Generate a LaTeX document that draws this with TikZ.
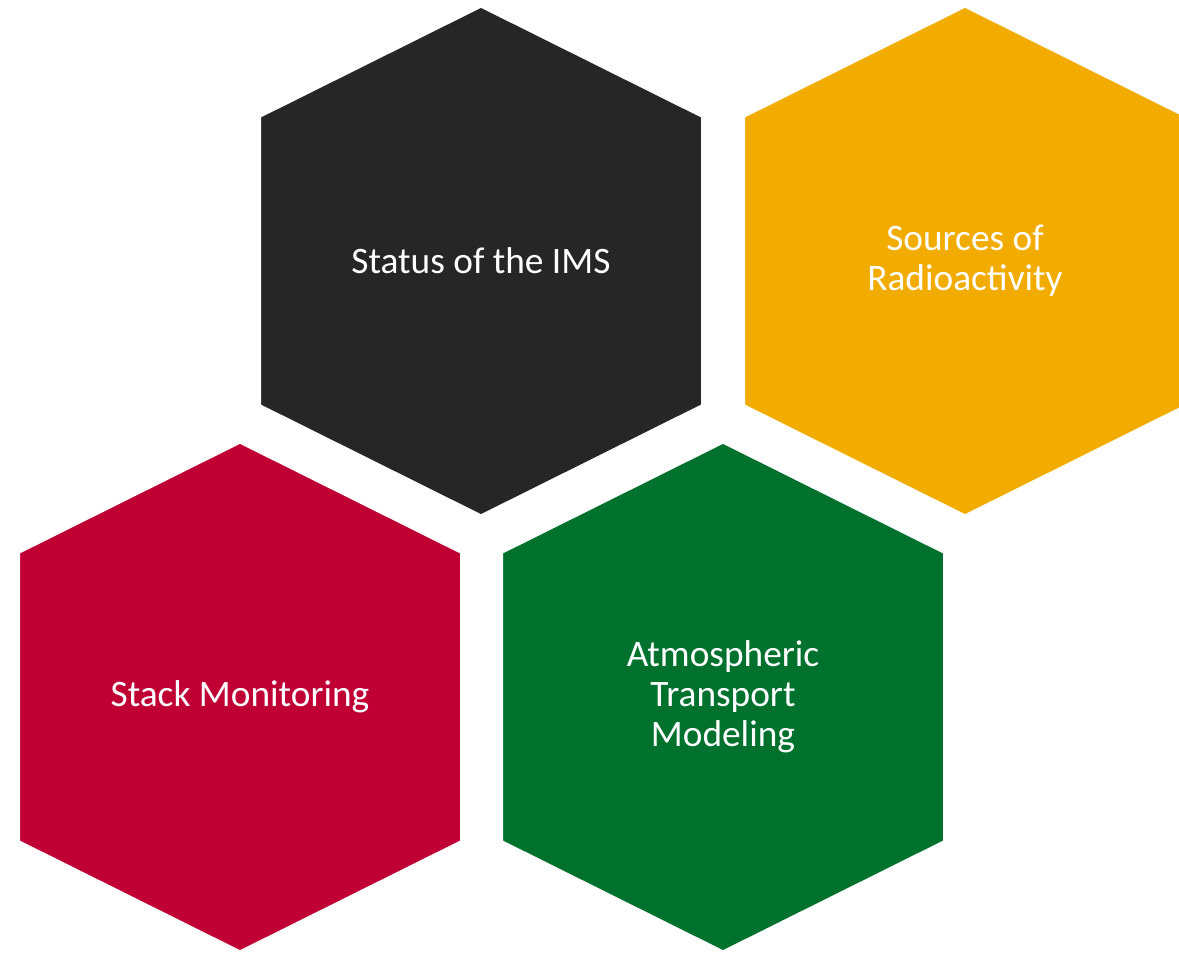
\documentclass[tikz,border=0pt]{standalone}
\usepackage{fontspec}
\setmainfont{Carlito}
\usepackage{xcolor}
\usepackage{tikz}
\usetikzlibrary{shadows}
\definecolor{hexblack}{HTML}{262626}
\definecolor{hexyellow}{HTML}{F2AC00}
\definecolor{hexred}{HTML}{C00034}
\definecolor{hexgreen}{HTML}{00722E}
\tikzset{
    hexnode/.style = {align=center, inner sep=0pt, text centered, text=white,
        font=\fontsize{28pt}{30pt}\selectfont},
    hexa/.style = {draw=white, line width=10.5pt, line join=miter,
        drop shadow={opacity=0.18, shadow xshift=2pt, shadow yshift=-2pt}}
}
% hexagon cell: name, centre, colour, text
\newcommand{\hexcell}[4]{%
    \draw [hexa, fill=#3, shift={#2}] (0,-261) -- (227,-148) -- (227,148) -- (0,261)
        -- (-227,148) -- (-227,-148) -- cycle;
    \node (#1) [hexnode] at #2 {#4};
}

\begin{document}
\begin{tikzpicture}[x=0.75pt, y=-0.75pt]
    \useasboundingbox (0,0) rectangle (1179,957);

    \hexcell{ims}{(481,261)}{hexblack}{Status of the IMS}
    \hexcell{sources}{(965,261)}{hexyellow}{Sources of\\Radioactivity}
    \hexcell{stack}{(240,697)}{hexred}{Stack Monitoring}
    \hexcell{atm}{(723,697)}{hexgreen}{Atmospheric\\Transport\\Modeling}
\end{tikzpicture}
\end{document}
